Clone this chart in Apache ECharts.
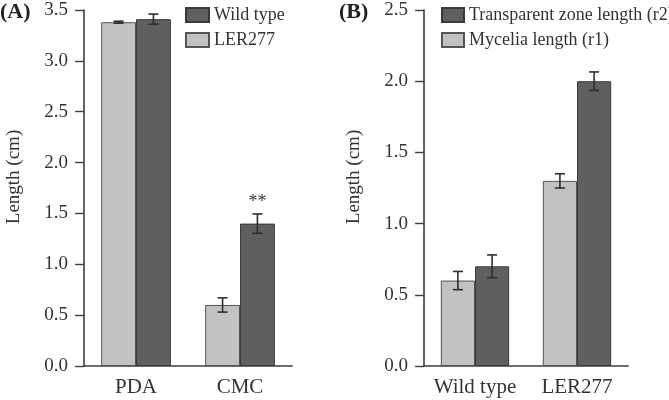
<!DOCTYPE html>
<html>
<head>
<meta charset="utf-8">
<script src="https://cdn.jsdelivr.net/npm/echarts@6/dist/echarts.min.js"></script>
<style>
  html, body { margin: 0; padding: 0; background: #fff; }
  #chart { width: 669px; height: 400px; }
</style>
</head>
<body>
<div id="chart"></div>
<script>
  // panel A data
  const catsA = ['PDA', 'CMC'];
  const lerA = [3.38, 0.60];
  const lerAErr = [0.01, 0.07];
  const wildA = [3.41, 1.40];
  const wildAErr = [0.05, 0.095];
  const wildASig = ['', '**'];

  // panel B data
  const catsB = ['Wild type', 'LER277'];
  const r1B = [0.60, 1.30];
  const r1BErr = [0.064, 0.05];
  const r2B = [0.70, 2.00];
  const r2BErr = [0.08, 0.065];

  const FONT = '"Liberation Serif", "Times New Roman", serif';
  const LIGHT = '#c2c2c2';
  const DARK = '#5f5f5f';
  const AXIS = '#3e3e3e';
  const TXT = '#333';

  let myChart = echarts.init(document.getElementById('chart'));

  // 误差棒 custom series
  function errSeries(gi, vals, errs, side, sig) {
    return {
      type: 'custom',
      xAxisIndex: gi,
      yAxisIndex: gi,
      silent: true,
      z: 10,
      data: vals.map((v, i) => [i, v, errs[i]]),
      encode: { x: 0, y: 1 },
      renderItem: function (params, api) {
        const i = api.value(0), v = api.value(1), e = api.value(2);
        const band = api.size([1, 0])[0];
        const off = side * band * 0.1675;
        const top = api.coord([i, v + e]);
        const bot = api.coord([i, v - e]);
        const x = top[0] + off;
        const cap = 5;
        const st = { stroke: '#2e2e2e', lineWidth: 1.6 };
        const children = [
          { type: 'line', shape: { x1: x, y1: top[1], x2: x, y2: bot[1] }, style: st },
          { type: 'line', shape: { x1: x - cap, y1: top[1], x2: x + cap, y2: top[1] }, style: st },
          { type: 'line', shape: { x1: x - cap, y1: bot[1], x2: x + cap, y2: bot[1] }, style: st }
        ];
        const lab = sig ? sig[params.dataIndex] : '';
        if (lab) {
          children.push({
            type: 'text',
            style: {
              x: x, y: top[1] - 3, text: lab, align: 'center', verticalAlign: 'bottom',
              font: '18px ' + FONT, fill: TXT
            }
          });
        }
        return { type: 'group', children: children };
      }
    };
  }

  function xAx(gi, data) {
    return {
      type: 'category', gridIndex: gi, data: data,
      axisLine: { lineStyle: { color: AXIS, width: 1.6 } },
      axisTick: { alignWithLabel: true, length: 8, lineStyle: { color: AXIS, width: 1.4 } },
      axisLabel: { fontFamily: FONT, fontSize: 21, color: TXT, margin: 11, interval: 0, hideOverlap: false }
    };
  }

  function yAx(gi, max) {
    return {
      type: 'value', gridIndex: gi, min: 0, max: max, interval: 0.5,
      name: 'Length (cm)', nameLocation: 'middle', nameGap: 60,
      nameTextStyle: { fontFamily: FONT, fontSize: 19, color: TXT, padding: [0, 0, 0, 22] },
      axisLine: { show: true, lineStyle: { color: AXIS, width: 1.6 } },
      axisTick: { show: true, length: 9, lineStyle: { color: AXIS, width: 1.4 } },
      splitLine: { show: false },
      axisLabel: {
        fontFamily: FONT, fontSize: 19, color: TXT, margin: 16,
        formatter: (v) => v.toFixed(1)
      }
    };
  }

  function bar(gi, name, data, color, border) {
    return {
      type: 'bar', name: name, xAxisIndex: gi, yAxisIndex: gi, data: data,
      barGap: '0%', barCategoryGap: '33%',
      itemStyle: { color: color, borderColor: border, borderWidth: 1 }
    };
  }

  let option = {
    backgroundColor: '#fff',
    animation: false,
    textStyle: { fontFamily: FONT },
    grid: [
      { left: 84, top: 10, width: 208, height: 356 },
      { left: 424, top: 10, width: 204, height: 356 }
    ],
    xAxis: [xAx(0, catsA), xAx(1, catsB)],
    yAxis: [yAx(0, 3.5), yAx(1, 2.5)],
    legend: [
      {
        data: ['Wild type', 'LER277'], orient: 'vertical', left: 185, top: 6, padding: 0,
        itemWidth: 23, itemHeight: 14, itemGap: 7, icon: 'rect',
        textStyle: { fontFamily: FONT, fontSize: 18, color: TXT }
      },
      {
        data: ['Transparent zone length (r2)', 'Mycelia length (r1)'], orient: 'vertical', left: 441, top: 6, padding: 0,
        itemWidth: 22, itemHeight: 14, itemGap: 7, icon: 'rect',
        textStyle: { fontFamily: FONT, fontSize: 18, color: TXT }
      }
    ],
    graphic: [
      { type: 'text', left: 0, top: 1, style: { text: '(A)', font: 'bold 22px ' + FONT, fill: '#222' } },
      { type: 'text', left: 339, top: 1, style: { text: '(B)', font: 'bold 22px ' + FONT, fill: '#222' } }
    ],
    series: [
      bar(0, 'LER277', lerA, LIGHT, '#555'),
      bar(0, 'Wild type', wildA, DARK, '#3a3a3a'),
      bar(1, 'Mycelia length (r1)', r1B, LIGHT, '#555'),
      bar(1, 'Transparent zone length (r2)', r2B, DARK, '#3a3a3a'),
      errSeries(0, lerA, lerAErr, -1, null),
      errSeries(0, wildA, wildAErr, 1, wildASig),
      errSeries(1, r1B, r1BErr, -1, null),
      errSeries(1, r2B, r2BErr, 1, null)
    ]
  };

  myChart.setOption(option);
</script>
</body>
</html>
